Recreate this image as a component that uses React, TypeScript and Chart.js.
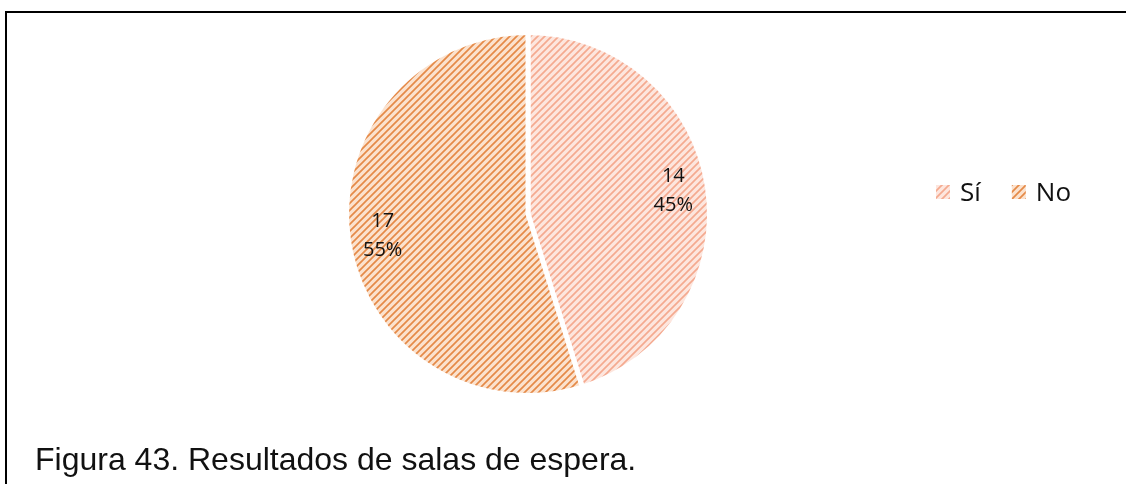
import React, { useEffect, useRef } from "react";
import { Chart, registerables } from "chart.js";

Chart.register(...registerables);

const categories = ["Sí", "No"];
const counts = [14, 17];
const percentLabels = ["45%", "55%"];
const caption = "Figura 43. Resultados de salas de espera.";

const bgColors = ["#FDE6DE", "#FBE2CE"];
const stripeColors = ["#F4AA90", "#E58A48"];

function makePattern(bg: string, fg: string): CanvasPattern | string {
  const size = 7;
  const c = document.createElement("canvas");
  c.width = size;
  c.height = size;
  const ctx = c.getContext("2d");
  if (!ctx) return bg;
  ctx.fillStyle = bg;
  ctx.fillRect(0, 0, size, size);
  ctx.strokeStyle = fg;
  ctx.lineWidth = 1.7;
  ctx.beginPath();
  ctx.moveTo(-1, size + 1);
  ctx.lineTo(size + 1, -1);
  ctx.moveTo(-size / 2 - 1, size / 2 + 1);
  ctx.lineTo(size / 2 + 1, -size / 2 - 1);
  ctx.moveTo(size / 2 - 1, size * 1.5 + 1);
  ctx.lineTo(size * 1.5 + 1, size / 2 - 1);
  ctx.stroke();
  return ctx.createPattern(c, "repeat") || bg;
}

const labelPlugin = {
  id: "sliceLabels",
  afterDatasetsDraw(chart: any) {
    const ctx = chart.ctx;
    const meta = chart.getDatasetMeta(0);
    ctx.save();
    ctx.font = "20px 'Open Sans'";
    ctx.fillStyle = "#111";
    ctx.textAlign = "center";
    ctx.textBaseline = "middle";
    meta.data.forEach((arc: any, i: number) => {
      const p = arc.getProps(["x", "y", "startAngle", "endAngle", "outerRadius"], true);
      const mid = (p.startAngle + p.endAngle) / 2;
      const r = p.outerRadius * 0.81;
      const cx = p.x + Math.cos(mid) * r;
      const cy = p.y + Math.sin(mid) * r;
      ctx.fillText(String(counts[i]), cx, cy - 15);
      ctx.fillText(percentLabels[i], cx, cy + 14);
    });
    ctx.restore();
  },
};

const legendPlugin = {
  id: "rowLegend",
  afterDraw(chart: any) {
    const ctx = chart.ctx;
    const ds = chart.data.datasets[0];
    const labels: string[] = chart.data.labels;
    ctx.save();
    ctx.font = "26px 'Open Sans'";
    ctx.textBaseline = "alphabetic";
    ctx.textAlign = "left";
    let x = 936;
    const y = 201;
    labels.forEach((lab, i) => {
      ctx.fillStyle = ds.backgroundColor[i];
      ctx.fillRect(x, y - 16, 14, 14);
      ctx.fillStyle = "#111";
      ctx.fillText(lab, x + 24, y);
      x += 24 + ctx.measureText(lab).width + 31;
    });
    ctx.restore();
  },
};

export default function App() {
  const ref = useRef<HTMLCanvasElement | null>(null);

  useEffect(() => {
    if (!ref.current) return;
    const patterns = categories.map((_, i) => makePattern(bgColors[i], stripeColors[i]));
    const chart = new Chart(ref.current, {
      type: "pie",
      data: {
        labels: categories,
        datasets: [
          {
            data: counts,
            backgroundColor: patterns as any,
            borderColor: "#ffffff",
            borderWidth: 5,
            hoverBorderWidth: 0,
            hoverOffset: 0,
            offset: 0,
          },
        ],
      },
      options: {
        animation: false,
        responsive: false,
        maintainAspectRatio: false,
        events: [],
        layout: { padding: { left: 344, right: 414, top: 30, bottom: 86 } },
        plugins: {
          legend: { display: false },
          tooltip: { enabled: false },
        },
      },
      plugins: [labelPlugin, legendPlugin],
    });
    return () => chart.destroy();
  }, []);

  return (
    <div
      style={{
        position: "fixed",
        left: 0,
        top: 0,
        width: 1126,
        height: 484,
        background: "#fff",
        overflow: "hidden",
      }}
    >
      <div
        style={{
          position: "absolute",
          left: 5,
          top: 11,
          width: 1200,
          height: 600,
          borderLeft: "2px solid #000",
          borderTop: "2px solid #000",
        }}
      />
      <canvas
        ref={ref}
        width={1126}
        height={484}
        style={{ position: "absolute", left: 0, top: 0, width: 1126, height: 484 }}
      />
      <div
        style={{
          position: "absolute",
          left: 35,
          top: 444,
          fontFamily: "'Liberation Sans', Arial, sans-serif",
          fontSize: 32,
          lineHeight: "31px",
          color: "#111",
          whiteSpace: "nowrap",
        }}
      >
        {caption}
      </div>
    </div>
  );
}
